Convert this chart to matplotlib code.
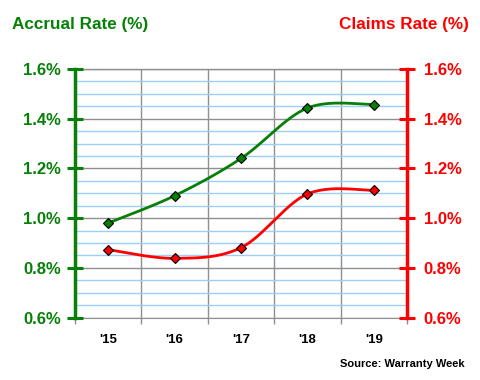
import numpy as np
import matplotlib
matplotlib.use("Agg")
import matplotlib.pyplot as plt
from matplotlib.ticker import MultipleLocator, FixedLocator, FuncFormatter

years = ["'15", "'16", "'17", "'18", "'19"]
accrual = [0.98, 1.09, 1.24, 1.443, 1.457]
claims = [0.873, 0.838, 0.881, 1.097, 1.112]

GREEN = "#078007"
RED = "#ff0000"
GRID_MAJOR = "#8f8f8f"
GRID_MINOR = "#9fcdf5"

plt.rcParams['font.family'] = ['Liberation Sans', 'DejaVu Sans']


def smooth(xs, ys, n=40):
    xs = np.asarray(xs, float)
    ys = np.asarray(ys, float)
    P = np.column_stack([xs, ys])
    out = []
    for i in range(len(P) - 1):
        p0 = P[i - 1] if i > 0 else P[i]
        p1 = P[i]
        p2 = P[i + 1]
        p3 = P[i + 2] if i + 2 < len(P) else P[i + 1]
        c1 = p1 + (p2 - p0) / 6.0
        c2 = p2 - (p3 - p1) / 6.0
        t = np.linspace(0, 1, n)[:, None]
        seg = ((1 - t) ** 3) * p1 + 3 * ((1 - t) ** 2) * t * c1 + 3 * (1 - t) * t ** 2 * c2 + t ** 3 * p2
        out.append(seg if i == 0 else seg[1:])
    seg = np.vstack(out)
    return seg[:, 0], seg[:, 1]


fig = plt.figure(figsize=(4.8, 3.8), dpi=100)
ax = fig.add_axes([75 / 480, 1 - 317.5 / 380, (407 - 75) / 480, (317.5 - 69) / 380])
ax2 = ax.twinx()

x = np.arange(len(years))
ax.set_xlim(-0.5, len(years) - 0.5)
ax.set_ylim(0.6, 1.6)
ax2.set_ylim(0.6, 1.6)

# grid
ax.yaxis.set_major_locator(MultipleLocator(0.2))
ax.yaxis.set_minor_locator(MultipleLocator(0.05))
ax.grid(which='minor', axis='y', color=GRID_MINOR, lw=1.0)
ax.grid(which='major', axis='y', color=GRID_MAJOR, lw=1.0)
ax.xaxis.set_major_locator(FixedLocator(x))
ax.xaxis.set_minor_locator(FixedLocator(np.arange(-0.5, len(years), 1.0)))
ax.grid(which='minor', axis='x', color=GRID_MAJOR, lw=1.0)
ax.set_axisbelow(True)

ax.set_xticklabels(years, fontsize=9.5, fontweight='bold', color='black')
ax.tick_params(axis='x', which='major', length=0, pad=12)
ax.tick_params(axis='x', which='minor', length=4, color=GRID_MAJOR, width=1)

fmt = FuncFormatter(lambda v, p: f"{v:.1f}%")
ax.yaxis.set_major_formatter(fmt)
ax.tick_params(axis='y', which='major', direction='inout', length=12, width=2.2,
               color=GREEN, labelcolor=GREEN, labelsize=12, pad=4)
ax.tick_params(axis='y', which='minor', length=0)
for lbl in ax.get_yticklabels():
    lbl.set_fontweight('bold')

ax2.yaxis.set_major_locator(MultipleLocator(0.2))
ax2.yaxis.set_major_formatter(fmt)
ax2.tick_params(axis='y', which='major', direction='inout', length=12, width=2.2,
                color=RED, labelcolor=RED, labelsize=12, pad=6)
for lbl in ax2.get_yticklabels():
    lbl.set_fontweight('bold')

ax.spines['top'].set_color(GRID_MAJOR)
ax.spines['top'].set_linewidth(1.0)
ax.spines['top'].set_zorder(0.5)
ax.spines['bottom'].set_color(GRID_MAJOR)
ax.spines['bottom'].set_zorder(0.5)
ax.spines['left'].set_color(GREEN)
ax.spines['left'].set_linewidth(2.5)
ax.spines['right'].set_visible(False)
for s in ('top', 'bottom', 'left'):
    ax2.spines[s].set_visible(False)
ax2.spines['right'].set_color(RED)
ax2.spines['right'].set_linewidth(2.5)

# lines
sx, sy = smooth(x, accrual)
ax.plot(sx, sy, color=GREEN, lw=2, zorder=3, solid_capstyle='butt')
ax.plot(x, accrual, linestyle='none', marker='D', ms=5, mfc=GREEN, mec='black', mew=0.8, zorder=4)
cx, cy = smooth(x, claims)
ax2.plot(cx, cy, color=RED, lw=2, zorder=3, solid_capstyle='butt')
ax2.plot(x, claims, linestyle='none', marker='D', ms=5, mfc=RED, mec='black', mew=0.8, zorder=4)

fig.text(12 / 480, 1 - 24 / 380, "Accrual Rate (%)", color=GREEN, fontsize=12.3,
         fontweight='bold', ha='left', va='center')
fig.text(469 / 480, 1 - 24 / 380, "Claims Rate (%)", color=RED, fontsize=12.3,
         fontweight='bold', ha='right', va='center')
fig.text(465 / 480, 1 - 364 / 380, "Source: Warranty Week", color='black', fontsize=8,
         fontweight='bold', ha='right', va='center')

fig.savefig("out.png", dpi=100, facecolor='white')
